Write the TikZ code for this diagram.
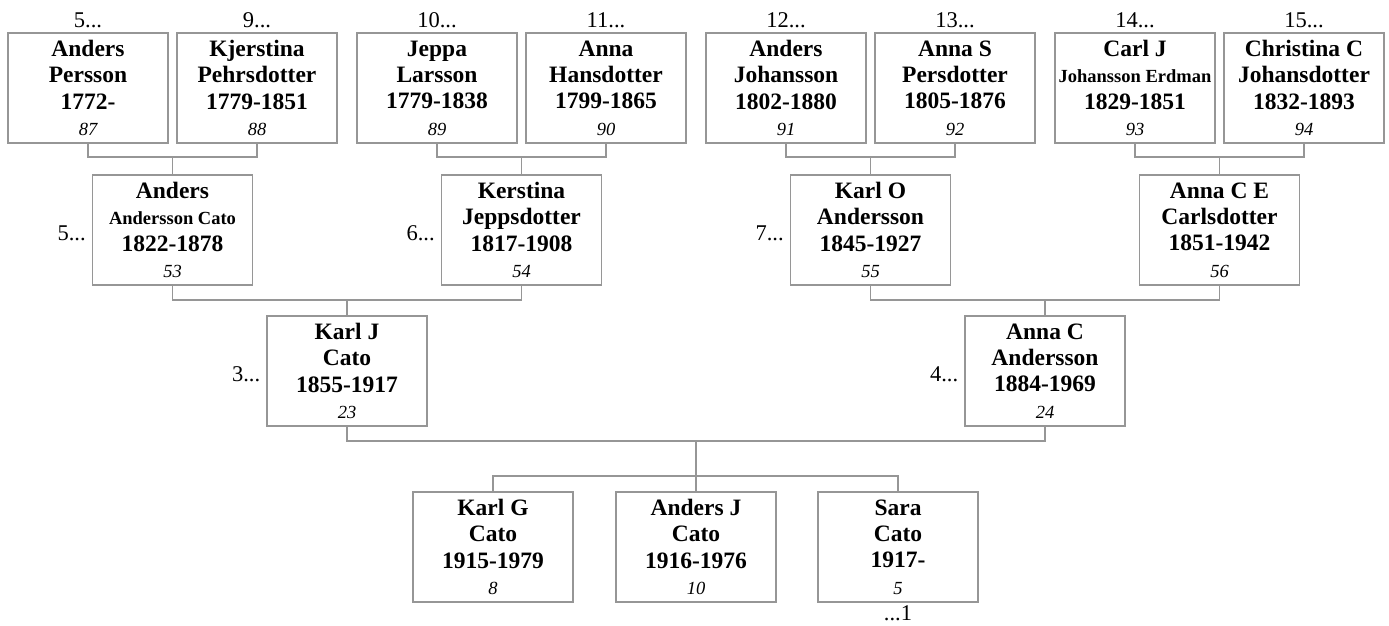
\documentclass[tikz,border=0pt]{standalone}
\usepackage{fontspec}
\setmainfont{Liberation Serif}
\definecolor{linegray}{RGB}{150,150,150}
\newcommand\pnum[1]{{\fontsize{18.5}{26.3}\selectfont\mdseries\itshape #1}}
\newcommand\psmall[1]{{\fontsize{18.5}{26.3}\selectfont #1}}
\tikzset{
  person/.style={draw=linegray, line width=1.3pt, minimum width=160pt, minimum height=110pt,
    inner sep=0pt, align=center, font=\fontsize{23.5}{26.3}\selectfont\bfseries,
    execute at begin node=\rule{0pt}{20pt}},
  lbl/.style={font=\fontsize{22.5}{26}\selectfont, inner sep=0pt},
  link/.style={draw=linegray, line width=1.3pt},
}
\begin{document}
\begin{tikzpicture}[x=1pt,y=-1pt]
\useasboundingbox (0,0) rectangle (1389,625);
% great-grandparents
\node[person] (p87) at (88,88)   {Anders\\Persson\\1772-\\\pnum{87}};
\node[person] (p88) at (257,88)  {Kjerstina\\Pehrsdotter\\1779-1851\\\pnum{88}};
\node[person] (p89) at (437,88)  {Jeppa\\Larsson\\1779-1838\\\pnum{89}};
\node[person] (p90) at (606,88)  {Anna\\Hansdotter\\1799-1865\\\pnum{90}};
\node[person] (p91) at (786,88)  {Anders\\Johansson\\1802-1880\\\pnum{91}};
\node[person] (p92) at (955,88)  {Anna S\\Persdotter\\1805-1876\\\pnum{92}};
\node[person] (p93) at (1135,88) {Carl J\\\psmall{Johansson Erdman}\\1829-1851\\\pnum{93}};
\node[person] (p94) at (1304,88) {Christina C\\Johansdotter\\1832-1893\\\pnum{94}};
% grandparents
\node[person] (g53) at (172.5,230)  {Anders\\\psmall{Andersson Cato}\\1822-1878\\\pnum{53}};
\node[person] (g54) at (521.5,230)  {Kerstina\\Jeppsdotter\\1817-1908\\\pnum{54}};
\node[person] (g55) at (870.5,230)  {Karl O\\Andersson\\1845-1927\\\pnum{55}};
\node[person] (g56) at (1219.5,230) {Anna C E\\Carlsdotter\\1851-1942\\\pnum{56}};
% parents
\node[person] (k23) at (347,371)  {Karl J\\Cato\\1855-1917\\\pnum{23}};
\node[person] (k24) at (1045,371) {Anna C\\Andersson\\1884-1969\\\pnum{24}};
% children
\node[person] (c8)  at (493,547) {Karl G\\Cato\\1915-1979\\\pnum{8}};
\node[person] (c10) at (696,547) {Anders J\\Cato\\1916-1976\\\pnum{10}};
\node[person] (c5)  at (898,547) {Sara\\Cato\\1917-\\\pnum{5}};
% labels
\node[lbl, anchor=base] (t87) at ([yshift=5pt]p87.north) {5...};
\node[lbl, anchor=base] (t88) at ([yshift=5pt]p88.north) {9...};
\node[lbl, anchor=base] (t89) at ([yshift=5pt]p89.north) {10...};
\node[lbl, anchor=base] (t90) at ([yshift=5pt]p90.north) {11...};
\node[lbl, anchor=base] (t91) at ([yshift=5pt]p91.north) {12...};
\node[lbl, anchor=base] (t92) at ([yshift=5pt]p92.north) {13...};
\node[lbl, anchor=base] (t93) at ([yshift=5pt]p93.north) {14...};
\node[lbl, anchor=base] (t94) at ([yshift=5pt]p94.north) {15...};
\node[lbl, anchor=base east] (s53) at ([xshift=-6pt,yshift=-10pt]g53.west) {5...};
\node[lbl, anchor=base east] (s54) at ([xshift=-6pt,yshift=-10pt]g54.west) {6...};
\node[lbl, anchor=base east] (s55) at ([xshift=-6pt,yshift=-10pt]g55.west) {7...};
\node[lbl, anchor=base east] (s23) at ([xshift=-6pt,yshift=-10pt]k23.west) {3...};
\node[lbl, anchor=base east] (s24) at ([xshift=-6pt,yshift=-10pt]k24.west) {4...};
\node[lbl, anchor=base] (s5) at ([yshift=-18pt]c5.south) {...1};
% junctions
\coordinate (j53) at (172.5,157);
\coordinate (j54) at (521.5,157);
\coordinate (j55) at (870.5,157);
\coordinate (j56) at (1219.5,157);
\coordinate (j23) at (347,300);
\coordinate (j24) at (1045,300);
\coordinate (jm) at (696,441);
\coordinate (jc) at (696,476);
% connectors
\draw[link] (p87.south) |- (j53) -| (p88.south);  \draw[link] (j53) -- (g53.north);
\draw[link] (p89.south) |- (j54) -| (p90.south);  \draw[link] (j54) -- (g54.north);
\draw[link] (p91.south) |- (j55) -| (p92.south);  \draw[link] (j55) -- (g55.north);
\draw[link] (p93.south) |- (j56) -| (p94.south);  \draw[link] (j56) -- (g56.north);
\draw[link] (g53.south) |- (j23) -| (g54.south);  \draw[link] (j23) -- (k23.north);
\draw[link] (g55.south) |- (j24) -| (g56.south);  \draw[link] (j24) -- (k24.north);
\draw[link] (k23.south) |- (jm) -| (k24.south);   \draw[link] (jm) -- (jc);
\draw[link] (c8.north) |- (jc) -| (c5.north);     \draw[link] (jc) -- (c10.north);
\end{tikzpicture}
\end{document}
